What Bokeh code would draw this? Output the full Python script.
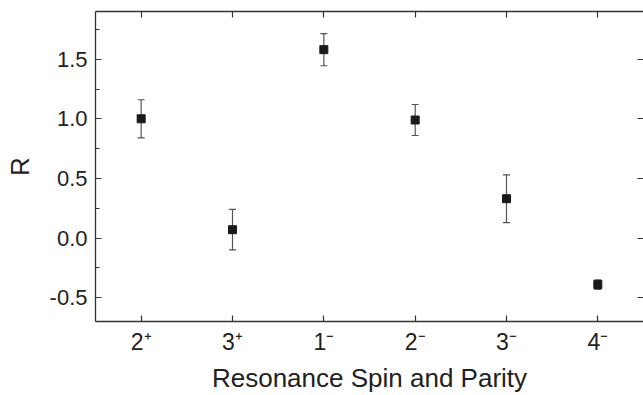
from bokeh.plotting import figure
from bokeh.models import (Range1d, Whisker, ColumnDataSource, TeeHead,
                          FixedTicker, PrintfTickFormatter, LinearAxis)
from bokeh.embed import file_html
from bokeh.resources import INLINE

categories = ["2\u207a", "3\u207a", "1\u207b", "2\u207b", "3\u207b", "4\u207b"]
r_values = [1.00, 0.07, 1.58, 0.99, 0.33, -0.39]
r_errors = [0.16, 0.17, 0.135, 0.13, 0.20, 0.04]
y_ticks = [-0.5, 0.0, 0.5, 1.0, 1.5]
y_minor = [-0.25, 0.25, 0.75, 1.25, 1.75]
x_title = "Resonance Spin and Parity"
y_title = "R"

x_pos = list(range(1, len(categories) + 1))
src = ColumnDataSource(dict(
    x=x_pos, y=r_values,
    lower=[v - e for v, e in zip(r_values, r_errors)],
    upper=[v + e for v, e in zip(r_values, r_errors)],
))

FONT = "Liberation Sans"
AX = "#333333"
TXT = "#222222"

p = figure(width=643, height=395, x_range=Range1d(0.5, len(categories) + 0.5),
           y_range=Range1d(-0.7, 1.9), output_backend="svg", toolbar_location=None,
           min_border_left=95, min_border_right=0, min_border_top=11, min_border_bottom=0,
           x_axis_label=x_title, y_axis_label=y_title)
p.outline_line_color = None
p.grid.visible = False
p.background_fill_color = "white"
p.border_fill_color = "white"

def style(ax):
    ax.axis_line_color = AX
    ax.axis_line_width = 1.3
    ax.major_tick_line_color = AX
    ax.minor_tick_line_color = AX
    ax.major_tick_line_width = 1.2
    ax.minor_tick_line_width = 1.2
    ax.major_tick_in = 6
    ax.major_tick_out = 0
    ax.minor_tick_in = 4
    ax.minor_tick_out = 0
    ax.major_label_text_font = FONT
    ax.major_label_text_color = TXT
    ax.axis_label_text_font = FONT
    ax.axis_label_text_font_style = "normal"
    ax.axis_label_text_color = TXT
    ax.axis_label_text_font_size = "26px"

xa = p.xaxis[0]
style(xa)
xa.ticker = FixedTicker(ticks=x_pos, minor_ticks=[])
xa.major_label_overrides = {i: c for i, c in zip(x_pos, categories)}
xa.major_label_text_font_size = "23px"
xa.major_label_standoff = 7
xa.axis_label_standoff = 5

ya = p.yaxis[0]
style(ya)
ya.ticker = FixedTicker(ticks=y_ticks, minor_ticks=y_minor)
ya.formatter = PrintfTickFormatter(format="%.1f")
ya.major_label_text_font_size = "22px"
ya.major_label_standoff = 8
ya.axis_label_standoff = 12

top = LinearAxis(ticker=FixedTicker(ticks=x_pos, minor_ticks=[]),
                 formatter=PrintfTickFormatter(format=""))
style(top)
top.major_label_standoff = 0
p.add_layout(top, "above")

right = LinearAxis(ticker=FixedTicker(ticks=y_ticks, minor_ticks=[]),
                   formatter=PrintfTickFormatter(format=""))
style(right)
right.axis_line_color = None
right.major_label_standoff = 0
p.add_layout(right, "right")

w = Whisker(base="x", lower="lower", upper="upper", source=src,
            line_color="#555555", line_width=1.2,
            upper_head=TeeHead(size=7, line_color="#555555", line_width=1.2),
            lower_head=TeeHead(size=7, line_color="#555555", line_width=1.2))
p.add_layout(w)

p.scatter("x", "y", source=src, marker="square", size=8,
          fill_color="#1a1a1a", line_color="#1a1a1a")

open("out.html", "w").write(file_html(p, INLINE))
